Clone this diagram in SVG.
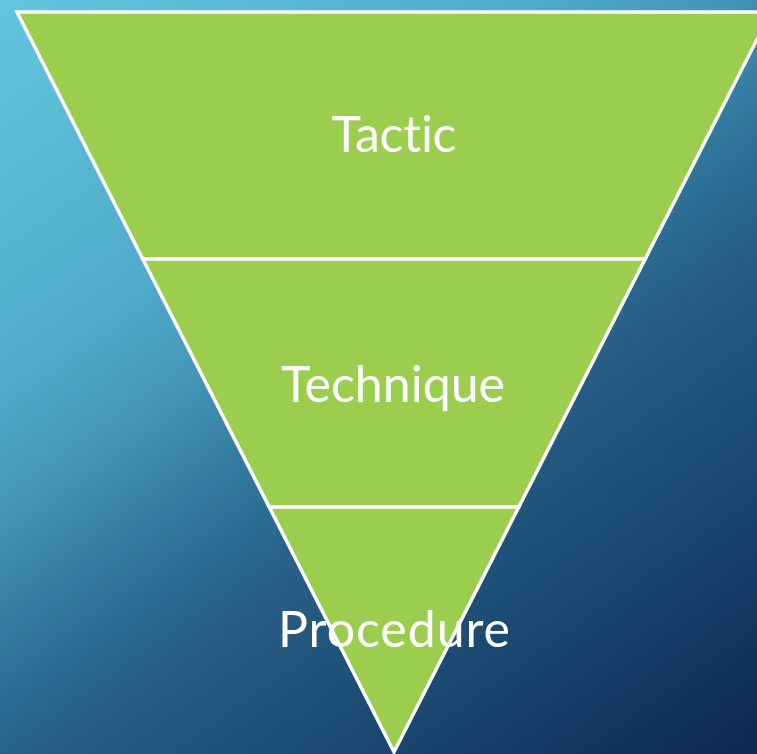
<svg xmlns="http://www.w3.org/2000/svg" width="757" height="754" viewBox="0 0 757 754">
  <defs>
    <linearGradient id="bg" gradientUnits="userSpaceOnUse" x1="0" y1="0" x2="620" y2="870">
      <stop offset="0" stop-color="#62C6DD"/>
      <stop offset="0.29" stop-color="#50ABCA"/>
      <stop offset="0.4" stop-color="#4494B4"/>
      <stop offset="0.47" stop-color="#357FA3"/>
      <stop offset="0.54" stop-color="#2A6C93"/>
      <stop offset="0.6" stop-color="#285D86"/>
      <stop offset="0.7" stop-color="#1F5278"/>
      <stop offset="0.85" stop-color="#143C66"/>
      <stop offset="1" stop-color="#0C2650"/>
    </linearGradient>
    <style>
      .tier { fill: #9BCD4E; stroke: #FFFFFF; stroke-width: 3.5; stroke-linejoin: miter; }
      .label { fill: #FFFFFF; font-family: Lato, "Open Sans", "DejaVu Sans", sans-serif; font-weight: 400; font-size: 50px; text-anchor: middle; font-variant-ligatures: none; }
    </style>
  </defs>

  <!-- background -->
  <rect x="0" y="0" width="757" height="754" fill="url(#bg)"/>

  <!-- inverted pyramid tiers -->
  <g id="tactic">
    <polygon class="tier" points="17,12 771,12 645.2,259 142.8,259"/>
    <text class="label" x="394" y="152" textLength="125">Tactic</text>
  </g>
  <g id="technique">
    <polygon class="tier" points="142.8,259 645.2,259 518.8,507 269.2,507"/>
    <text class="label" x="393" y="402" textLength="224">Technique</text>
  </g>
  <g id="procedure">
    <polygon class="tier" points="269.2,507 518.8,507 394,752"/>
    <text class="label" x="394" y="647" textLength="232">Procedure</text>
  </g>

  <!-- no connectors in this figure -->
  <g id="connectors"/>
</svg>
